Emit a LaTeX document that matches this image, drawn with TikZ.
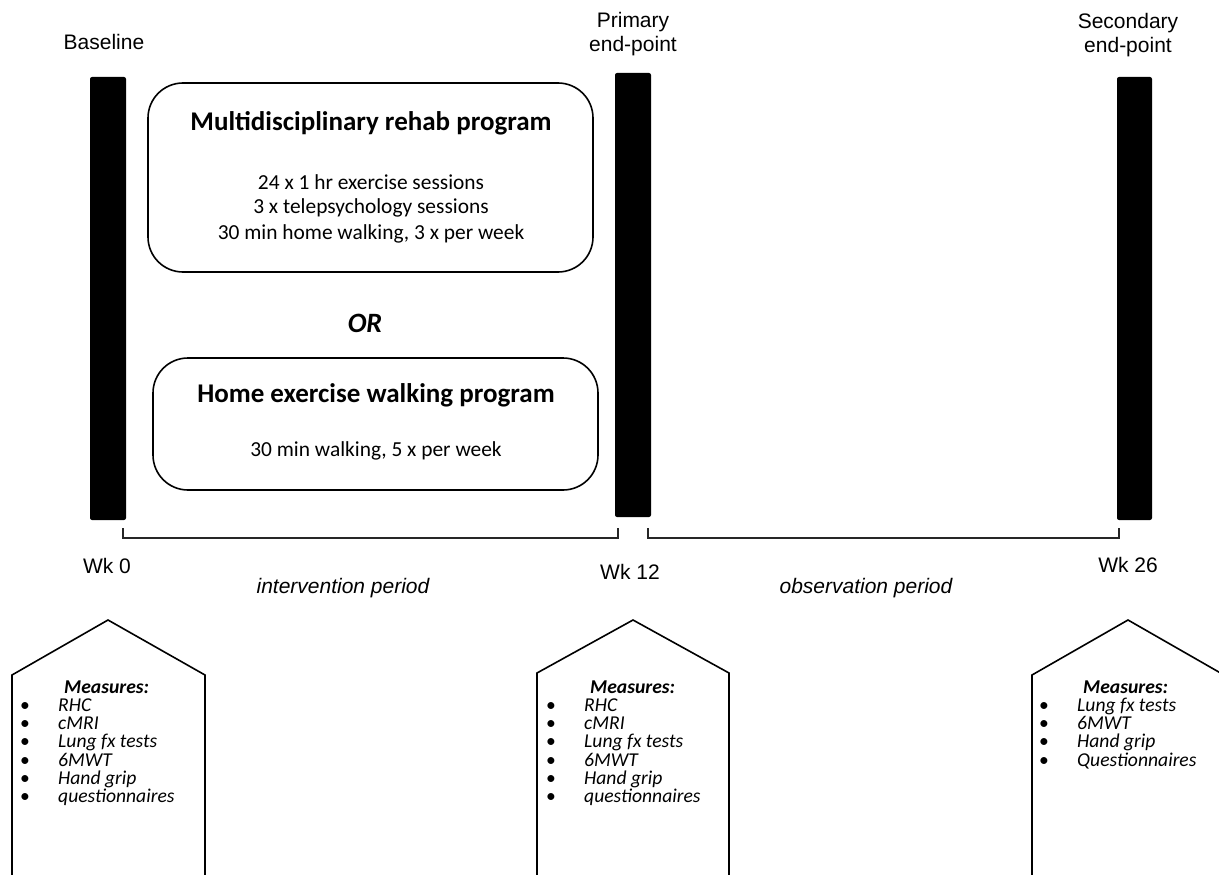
\documentclass[tikz,border=0pt]{standalone}
\usepackage{fontspec}
\setmainfont{Carlito}
\newfontfamily\arialf{Liberation Sans}
\newcommand{\measlist}[1]{%
  \fontsize{19.6}{18.3}\selectfont\itshape
  \begin{tabular}[t]{@{}l@{}l@{}}
    \multicolumn{2}{@{\hspace{44pt}}l@{}}{\smash{\bfseries Measures:}}\\
    #1
  \end{tabular}}
\newcommand{\mitem}[1]{\makebox[38pt][l]{\upshape\smash{\textbullet}} & \smash{#1}\\}
\tikzset{
  barnode/.style={fill=black, draw=none, inner sep=0pt, rounded corners=2pt},
  progbox/.style={draw=black, line width=1.6pt, rounded corners=35pt, inner sep=0pt},
  arl/.style={font=\arialf\fontsize{21}{23}\selectfont, anchor=base, inner sep=0pt},
  arli/.style={font=\arialf\itshape\fontsize{21}{23}\selectfont, anchor=base, inner sep=0pt},
  btitle/.style={font=\bfseries\fontsize{27}{29}\selectfont, anchor=base, inner sep=0pt},
  btext/.style={font=\fontsize{21.4}{23}\selectfont, anchor=base, inner sep=0pt},
  ortext/.style={font=\bfseries\itshape\fontsize{28}{30}\selectfont, anchor=base, inner sep=0pt},
  measnode/.style={anchor=base west, inner sep=0pt, align=left},
  bracket/.style={draw=black!85, line width=1.6pt},
  pent/.style={draw=black, line width=1.6pt, line join=miter}
}
\begin{document}
\begin{tikzpicture}[x=1pt,y=-1pt]
\useasboundingbox (0,0) rectangle (1219,875);
\clip (0,0) rectangle (1219,875);

% time bars
\node[barnode, minimum width=36pt, minimum height=443pt] (bar0) at (108,298.5) {};
\node[barnode, minimum width=36pt, minimum height=444pt] (bar12) at (633,295) {};
\node[barnode, minimum width=35pt, minimum height=443pt] (bar26) at (1134.5,298.5) {};

% top labels
\node[arl] (lbase) at (104,50) {Baseline};
\node[arl] (lprim1) at (633,28) {Primary};
\node[arl] (lprim2) at (633,52) {end-point};
\node[arl] (lsec1) at (1128,29) {Secondary};
\node[arl] (lsec2) at (1128,53) {end-point};

% programme boxes
\node[progbox, minimum width=445pt, minimum height=189pt] (box1) at (370.5,177.5) {};
\node[btitle] (t1) at (371,131) {Multidisciplinary rehab program};
\node[btext] (t1a) at (371,189) {24 x 1 hr exercise sessions};
\node[btext] (t1b) at (371,213) {3 x telepsychology sessions};
\node[btext] (t1c) at (371,239) {30 min home walking, 3 x per week};

\node[ortext] (or) at (365,332) {OR};

\node[progbox, minimum width=445pt, minimum height=132pt] (box2) at (375.5,424) {};
\node[btitle] (t2) at (376,402) {Home exercise walking program};
\node[btext] (t2a) at (376,456) {30 min walking, 5 x per week};

% brackets
\coordinate (b1s) at (123,528);
\coordinate (b1e) at (618,528);
\coordinate (b2s) at (648,528);
\coordinate (b2e) at (1119,528);
\draw[bracket] (b1s) |- (618,538) -- (b1e);
\draw[bracket] (b2s) |- (1119,538) -- (b2e);

% week labels
\node[arl] (wk0) at (107,573) {Wk 0};
\node[arl] (wk12) at (630,579) {Wk 12};
\node[arl] (wk26) at (1128,572) {Wk 26};
\node[arli] (pint) at (343,593) {intervention period};
\node[arli] (pobs) at (866,593) {observation period};

% measure panels
\draw[pent] (12,880) -- (12,675) -- (108,620) -- (205,675) -- (205,880);
\draw[pent] (537,880) -- (537,673) -- (633,620) -- (729,673) -- (729,880);
\draw[pent] (1032,880) -- (1032,675) -- (1128,620) -- (1224,675) -- (1224,880);

\node[measnode] (m0) at (20,693) {\measlist{\mitem{RHC}\mitem{cMRI}\mitem{Lung fx tests}\mitem{6MWT}\mitem{Hand grip}\mitem{questionnaires}}};
\node[measnode] (m1) at (546,693) {\measlist{\mitem{RHC}\mitem{cMRI}\mitem{Lung fx tests}\mitem{6MWT}\mitem{Hand grip}\mitem{questionnaires}}};
\node[measnode] (m2) at (1039,693) {\measlist{\mitem{Lung fx tests}\mitem{6MWT}\mitem{Hand grip}\mitem{Questionnaires}}};
\end{tikzpicture}
\end{document}
